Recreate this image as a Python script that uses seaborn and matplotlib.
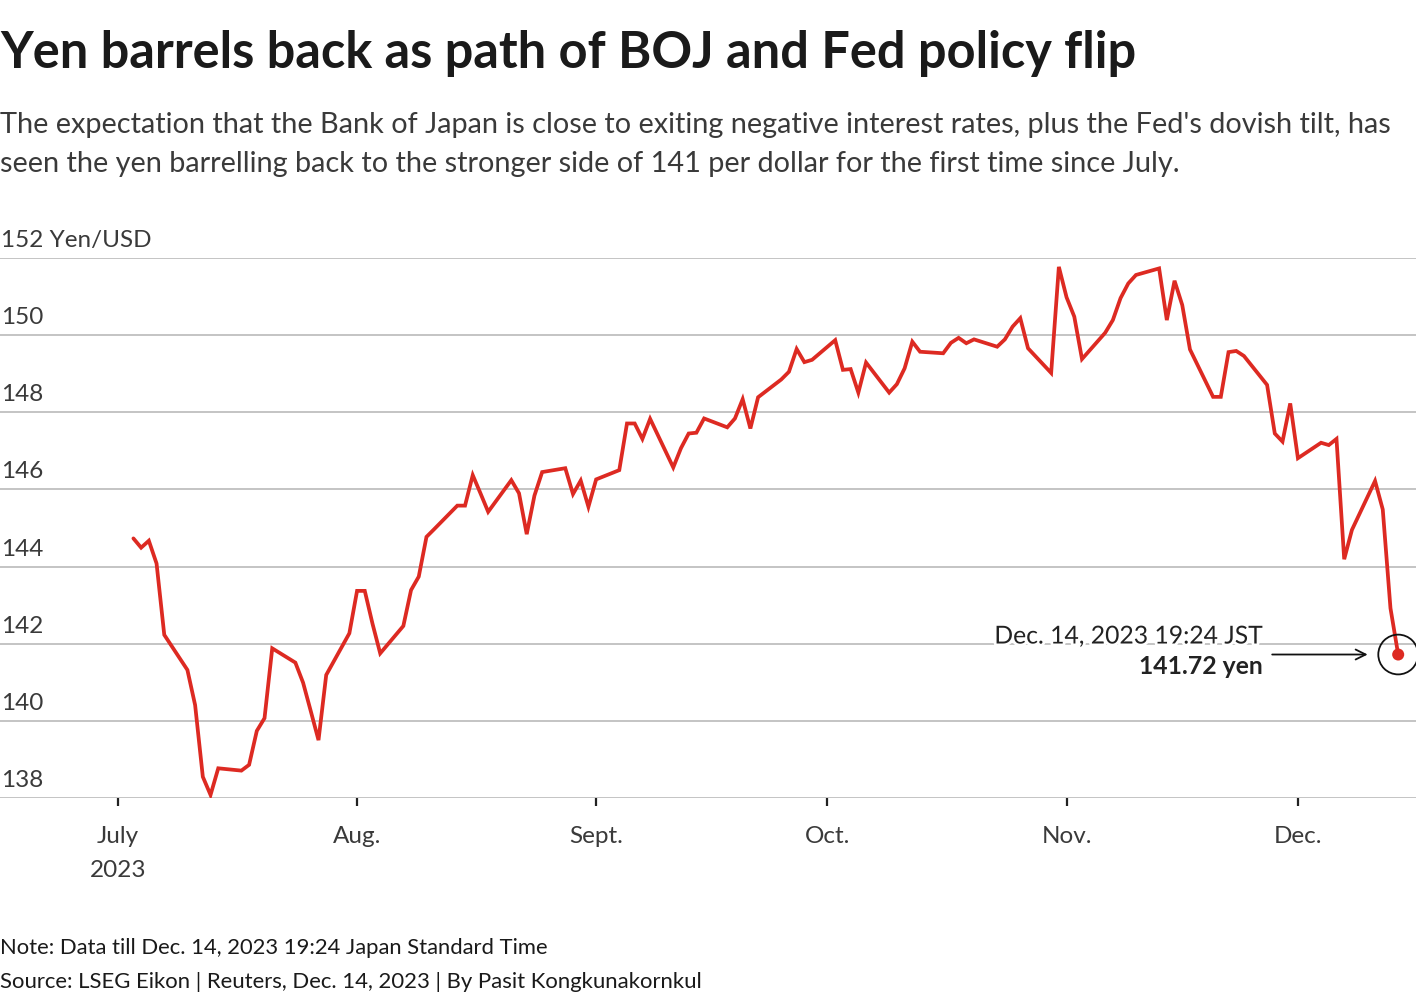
import matplotlib
matplotlib.use("Agg")
import matplotlib.pyplot as plt
import matplotlib.dates as mdates
import matplotlib.patheffects as pe
import seaborn as sns
import pandas as pd
import numpy as np

# ---------------- data ----------------
dates = [
    "2023-07-03", "2023-07-04", "2023-07-05", "2023-07-06", "2023-07-07",
    "2023-07-10", "2023-07-11", "2023-07-12", "2023-07-13", "2023-07-14",
    "2023-07-17", "2023-07-18", "2023-07-19", "2023-07-20", "2023-07-21",
    "2023-07-24", "2023-07-25", "2023-07-26", "2023-07-27", "2023-07-28",
    "2023-07-31", "2023-08-01", "2023-08-02", "2023-08-03", "2023-08-04",
    "2023-08-07", "2023-08-08", "2023-08-09", "2023-08-10", "2023-08-11",
    "2023-08-14", "2023-08-15", "2023-08-16", "2023-08-17", "2023-08-18",
    "2023-08-21", "2023-08-22", "2023-08-23", "2023-08-24", "2023-08-25",
    "2023-08-28", "2023-08-29", "2023-08-30", "2023-08-31", "2023-09-01",
    "2023-09-04", "2023-09-05", "2023-09-06", "2023-09-07", "2023-09-08",
    "2023-09-11", "2023-09-12", "2023-09-13", "2023-09-14", "2023-09-15",
    "2023-09-18", "2023-09-19", "2023-09-20", "2023-09-21", "2023-09-22",
    "2023-09-25", "2023-09-26", "2023-09-27", "2023-09-28", "2023-09-29",
    "2023-10-02", "2023-10-03", "2023-10-04", "2023-10-05", "2023-10-06",
    "2023-10-09", "2023-10-10", "2023-10-11", "2023-10-12", "2023-10-13",
    "2023-10-16", "2023-10-17", "2023-10-18", "2023-10-19", "2023-10-20",
    "2023-10-23", "2023-10-24", "2023-10-25", "2023-10-26", "2023-10-27",
    "2023-10-30", "2023-10-31", "2023-11-01", "2023-11-02", "2023-11-03",
    "2023-11-06", "2023-11-07", "2023-11-08", "2023-11-09", "2023-11-10",
    "2023-11-13", "2023-11-14", "2023-11-15", "2023-11-16", "2023-11-17",
    "2023-11-20", "2023-11-21", "2023-11-22", "2023-11-23", "2023-11-24",
    "2023-11-27", "2023-11-28", "2023-11-29", "2023-11-30", "2023-12-01",
    "2023-12-04", "2023-12-05", "2023-12-06", "2023-12-07", "2023-12-08",
    "2023-12-11", "2023-12-12", "2023-12-13", "2023-12-14",
]
yen_per_usd = [
    144.73, 144.49, 144.67, 144.08, 142.23,
    141.32, 140.41, 138.55, 138.08, 138.77,
    138.71, 138.86, 139.74, 140.07, 141.88,
    141.51, 140.99, 140.25, 139.50, 141.19,
    142.27, 143.37, 143.37, 142.52, 141.75,
    142.46, 143.39, 143.74, 144.77, 144.97,
    145.58, 145.58, 146.37, 145.90, 145.42,
    146.24, 145.90, 144.84, 145.84, 146.45,
    146.55, 145.88, 146.23, 145.55, 146.26,
    146.50, 147.71, 147.71, 147.31, 147.83,
    146.57, 147.07, 147.45, 147.47, 147.84,
    147.61, 147.84, 148.34, 147.58, 148.39,
    148.85, 149.05, 149.64, 149.30, 149.36,
    149.87, 149.10, 149.12, 148.51, 149.29,
    148.51, 148.73, 149.14, 149.83, 149.57,
    149.53, 149.80, 149.93, 149.79, 149.89,
    149.70, 149.89, 150.22, 150.44, 149.66,
    149.02, 151.77, 150.98, 150.48, 149.38,
    150.06, 150.39, 150.96, 151.34, 151.56,
    151.73, 150.39, 151.41, 150.78, 149.63,
    148.40, 148.40, 149.56, 149.59, 149.46,
    148.71, 147.45, 147.24, 148.23, 146.81,
    147.21, 147.15, 147.31, 144.19, 144.95,
    146.22, 145.48, 142.92, 141.72,
]
y_ticks = [138, 140, 142, 144, 146, 148, 150, 152]
y_tick_labels = ["138", "140", "142", "144", "146", "148", "150", "152 Yen/USD"]
x_tick_dates = ["2023-07-01", "2023-08-01", "2023-09-01", "2023-10-01", "2023-11-01", "2023-12-01"]
x_tick_labels = ["July\n2023", "Aug.", "Sept.", "Oct.", "Nov.", "Dec."]

title = "Yen barrels back as path of BOJ and Fed policy flip"
subtitle_1 = "The expectation that the Bank of Japan is close to exiting negative interest rates, plus the Fed's dovish tilt, has"
subtitle_2 = "seen the yen barrelling back to the stronger side of 141 per dollar for the first time since July."
note = "Note: Data till Dec. 14, 2023 19:24 Japan Standard Time"
source = "Source: LSEG Eikon | Reuters, Dec. 14, 2023 | By Pasit Kongkunakornkul"
ann_date = "Dec. 14, 2023 19:24 JST"
ann_value = "141.72 yen"

df = pd.DataFrame({"date": pd.to_datetime(dates), "rate": yen_per_usd})

# ---------------- style ----------------
sns.set_theme(style="white")
FONT = ["Lato", "DejaVu Sans"]
plt.rcParams["font.family"] = FONT

RED = "#dd2a22"
TXT = "#3a3a3a"
GRID = "#b4b4b4"

W, H = 1420, 1000
fig = plt.figure(figsize=(W / 100, H / 100), dpi=100)
ax = fig.add_axes([0.0, 1 - 798 / H, 1416 / W, (798 - 258) / H])

sns.lineplot(data=df, x="date", y="rate", ax=ax, color=RED, linewidth=2.7,
             solid_joinstyle="miter", zorder=3)

# axis limits
jul1 = mdates.date2num(pd.Timestamp("2023-07-01"))
ax.set_xlim(jul1 - 15.30, jul1 + 168.31)
ax.set_ylim(138, 152)

for s in ax.spines.values():
    s.set_visible(False)

# horizontal grid lines
for v in y_ticks:
    ax.axhline(v, color=GRID, lw=1.1, zorder=1)
ax.set_yticks([])
for v, lab in zip(y_ticks, y_tick_labels):
    ax.annotate(lab, xy=(0, v), xycoords=("axes fraction", "data"),
                xytext=(1, 7), textcoords="offset pixels",
                ha="left", va="bottom", fontsize=17.5, color=TXT)

# x ticks
ax.set_xticks(pd.to_datetime(x_tick_dates))
ax.set_xticklabels(x_tick_labels, fontsize=17.5, color=TXT, linespacing=1.75)
ax.tick_params(axis="x", direction="out", length=6, width=1.6, color="#222222",
               pad=14, bottom=True)
ax.set_xlabel("")
ax.set_ylabel("")

# end annotation
last_x = df["date"].iloc[-1]
last_y = df["rate"].iloc[-1]
ax.scatter([last_x], [last_y], s=75, color=RED, zorder=5, edgecolor="none")
ax.scatter([last_x], [last_y], s=820, facecolor="none", edgecolor="#111111",
           linewidth=1.3, zorder=5)
ax.annotate("", xy=(last_x, last_y), xycoords="data", xytext=(-126, 0),
            textcoords="offset pixels",
            arrowprops=dict(arrowstyle="->,head_length=0.6,head_width=0.3",
                            color="#111111", lw=1.3, shrinkA=0, shrinkB=22),
            zorder=4)
ax.annotate(ann_date, xy=(last_x, last_y), xycoords="data",
            xytext=(-135, 11), textcoords="offset pixels",
            ha="right", va="baseline", fontsize=17.8, color="#222222",
            path_effects=[pe.withStroke(linewidth=4, foreground="white")], zorder=4)
ax.annotate(ann_value, xy=(last_x, last_y), xycoords="data",
            xytext=(-135, -19), textcoords="offset pixels",
            ha="right", va="baseline", fontsize=17.8, color="#222222",
            fontweight="bold", zorder=4)

# titles and footers
fig.text(0.0, 1 - 68 / H, title, fontsize=36.4, fontweight="bold", color="#1a1a1a",
         ha="left", va="baseline")
fig.text(0.0, 1 - 133 / H, subtitle_1, fontsize=20.8, color=TXT, ha="left", va="baseline")
fig.text(0.0, 1 - 172 / H, subtitle_2, fontsize=20.8, color=TXT, ha="left", va="baseline")
fig.text(0.0, 1 - 954 / H, note, fontsize=15.8, color="#1a1a1a", ha="left", va="baseline")
fig.text(0.0, 1 - 988 / H, source, fontsize=15.95, color="#1a1a1a", ha="left", va="baseline")

fig.savefig("out.png", dpi=100, facecolor="white")
